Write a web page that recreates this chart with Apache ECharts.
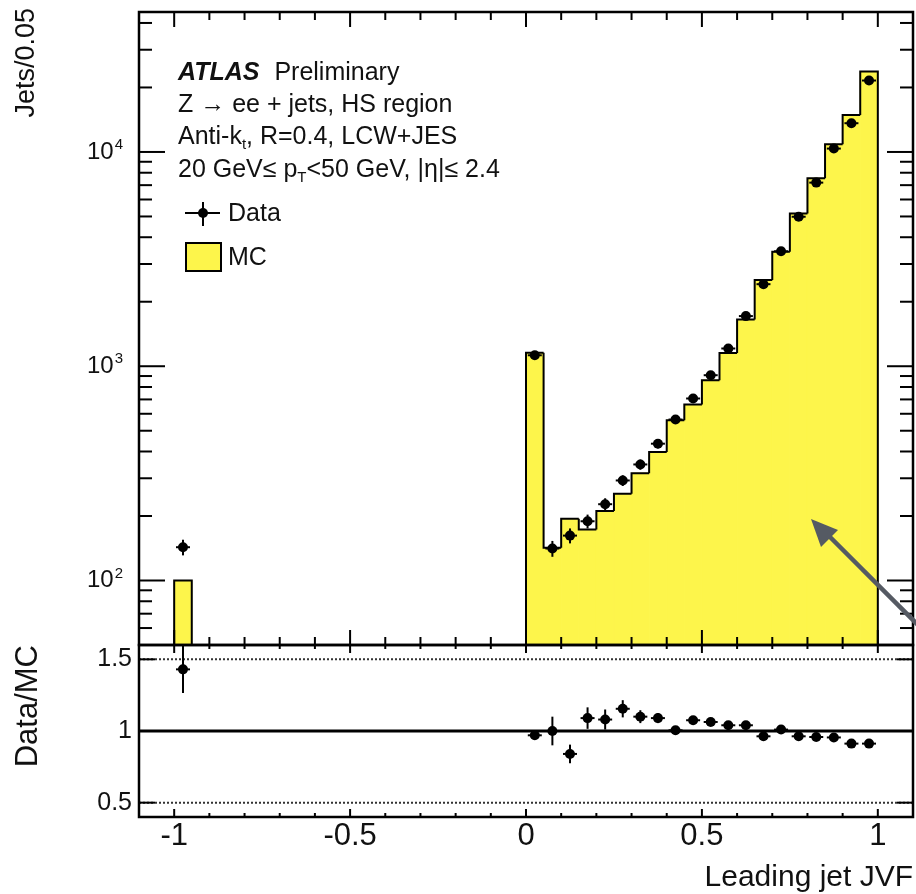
<!DOCTYPE html>
<html><head><meta charset="utf-8">
<script src="https://cdn.jsdelivr.net/npm/echarts@6/dist/echarts.min.js"></script>
<style>html,body{margin:0;padding:0;background:#fff}#c{width:916px;height:894px}</style>
</head><body><div id="c"></div>
<script>
// ---------------- data ----------------
const binWidth = 0.05;
const binLow = [-1.00, 0.00, 0.05, 0.10, 0.15, 0.20, 0.25, 0.30, 0.35, 0.40, 0.45,
                0.50, 0.55, 0.60, 0.65, 0.70, 0.75, 0.80, 0.85, 0.90, 0.95];
const mcValues = [100, 1155, 142, 194, 173, 211, 254, 317, 398, 560, 663,
                  861, 1154, 1652, 2524, 3422, 5168, 7538, 10860, 14890, 23720];
const dataValues = [143, 1125, 141, 162, 189, 227, 293, 348, 435, 564, 707,
                    908, 1210, 1714, 2415, 3440, 4985, 7193, 10370, 13620, 21550];
const dataErrors = [12, 34, 12, 13, 14, 15, 17, 19, 21, 24, 27,
                    30, 35, 41, 49, 58, 71, 85, 102, 117, 147];
const ratioValues = [1.43, 0.97, 1.00, 0.84, 1.09, 1.08, 1.155, 1.10, 1.09, 1.005, 1.075,
                     1.063, 1.04, 1.04, 0.963, 1.01, 0.963, 0.958, 0.955, 0.912, 0.912];
const ratioErrors = [0.165, 0.03, 0.10, 0.065, 0.075, 0.07, 0.06, 0.045, 0.035, 0.03, 0.025,
                     0.02, 0.02, 0.015, 0.015, 0.012, 0.01, 0.01, 0.01, 0.008, 0.007];
const ratioRefLines = [0.5, 1.0, 1.5];
const xMajorTicks = [-1, -0.5, 0, 0.5, 1];
const xMinorTicks = [-1.1, -0.9, -0.8, -0.7, -0.6, -0.4, -0.3, -0.2, -0.1,
                     0.1, 0.2, 0.3, 0.4, 0.6, 0.7, 0.8, 0.9, 1.1];
const yMajorTicks = [100, 1000, 10000];
const yMinorTicks = [50, 60, 70, 80, 90, 200, 300, 400, 500, 600, 700, 800, 900,
                     2000, 3000, 4000, 5000, 6000, 7000, 8000, 9000, 20000, 30000, 40000];
const ratioMajorTicks = [0.5, 1, 1.5];

// ---------------- layout / style ----------------
const X_MIN = -1.1, X_MAX = 1.1, Y_MIN = 50, Y_MAX = 45000, R_MIN = 0.4, R_MAX = 1.6;
const FONT = "'Liberation Sans', Arial, Helvetica, sans-serif";
const YELLOW = '#fdf54b';
const INK = '#111';

const chart = echarts.init(document.getElementById('c'), null, {renderer: 'canvas'});

function mcFill(params, api) {
  const lo = api.value(0), v = api.value(1);
  const p0 = api.coord([lo, Y_MIN]);
  const p1 = api.coord([lo + binWidth, v]);
  return {type: 'rect', shape: {x: p0[0], y: p1[1], width: p1[0] - p0[0], height: p0[1] - p1[1]},
          style: {fill: YELLOW, stroke: YELLOW, lineWidth: 1}};
}
function mcOutline(params, api) {
  const i = params.dataIndex;
  const lo = api.value(0), v = api.value(1), hi = lo + binWidth;
  const prevAdj = i > 0 && Math.abs(binLow[i - 1] + binWidth - lo) < 1e-9;
  const nextAdj = i < binLow.length - 1 && Math.abs(binLow[i + 1] - hi) < 1e-9;
  const pts = [];
  pts.push(api.coord([lo, prevAdj ? mcValues[i - 1] : Y_MIN]));
  pts.push(api.coord([lo, v]));
  pts.push(api.coord([hi, v]));
  if (!nextAdj) pts.push(api.coord([hi, Y_MIN]));
  return {type: 'polyline', shape: {points: pts}, style: {stroke: '#000', lineWidth: 2, fill: null}};
}
function pointRenderer(errArr) {
  return function (params, api) {
    const i = params.dataIndex;
    const x = api.value(0), y = api.value(1), e = errArr[i];
    const c = api.coord([x, y]);
    const t = api.coord([x, y + e]);
    const b = api.coord([x, y - e]);
    return {type: 'group', children: [
      {type: 'line', shape: {x1: c[0], y1: t[1], x2: c[0], y2: b[1]}, style: {stroke: '#000', lineWidth: 2}},
      {type: 'line', shape: {x1: c[0] - 7, y1: c[1], x2: c[0] + 7, y2: c[1]}, style: {stroke: '#000', lineWidth: 2}},
      {type: 'circle', shape: {cx: c[0], cy: c[1], r: 5}, style: {fill: '#000'}}
    ]};
  };
}
function tickSeries(idx, yLo, yHi, lens, items) {
  return {
    type: 'custom', xAxisIndex: idx, yAxisIndex: idx, z: 20, silent: true,
    encode: {x: 0, y: 1}, data: items,
    renderItem: function (params, api) {
      const kind = api.value(2);
      const st = {stroke: '#000', lineWidth: 2};
      if (kind === 9) {
        const a = api.coord([X_MIN, yHi]), b = api.coord([X_MAX, yLo]);
        return {type: 'rect', shape: {x: a[0], y: a[1], width: b[0] - a[0], height: b[1] - a[1]},
                style: {stroke: '#000', lineWidth: 2.5, fill: null}};
      }
      const len = lens[kind];
      if (kind < 2) {
        const xv = api.value(0);
        const b = api.coord([xv, yLo]), t = api.coord([xv, yHi]);
        return {type: 'group', children: [
          {type: 'line', shape: {x1: b[0], y1: b[1], x2: b[0], y2: b[1] - len}, style: st},
          {type: 'line', shape: {x1: t[0], y1: t[1], x2: t[0], y2: t[1] + len}, style: st}]};
      }
      const yv = api.value(1);
      const l = api.coord([X_MIN, yv]), r = api.coord([X_MAX, yv]);
      return {type: 'group', children: [
        {type: 'line', shape: {x1: l[0], y1: l[1], x2: l[0] + len, y2: l[1]}, style: st},
        {type: 'line', shape: {x1: r[0], y1: r[1], x2: r[0] - len, y2: r[1]}, style: st}]};
    }
  };
}

const mainTickItems = [].concat(
  xMajorTicks.map(v => [v, 100, 0]),
  xMinorTicks.map(v => [v, 100, 1]),
  yMajorTicks.map(v => [0, v, 2]),
  yMinorTicks.map(v => [0, v, 3]),
  [[0, 100, 9]]
);
const ratioTickItems = [].concat(
  xMajorTicks.map(v => [v, 1, 0]),
  xMinorTicks.map(v => [v, 1, 1]),
  ratioMajorTicks.map(v => [0, v, 2]),
  [[0, 1, 9]]
);

const mcData = binLow.map((lo, i) => [lo, mcValues[i]]);
const dataPts = binLow.map((lo, i) => [lo + binWidth / 2, dataValues[i]]);
const ratioPts = binLow.map((lo, i) => [lo + binWidth / 2, ratioValues[i]]);

const option = {
  animation: false,
  backgroundColor: '#fff',
  grid: [
    {left: 139, right: 3, top: 12, height: 633, show: false},
    {left: 139, right: 3, top: 645, height: 172, show: false}
  ],
  xAxis: [
    {gridIndex: 0, type: 'value', min: X_MIN, max: X_MAX, interval: 0.1,
     axisLabel: {show: false}, axisTick: {show: false}, axisLine: {show: false}, splitLine: {show: false}},
    {gridIndex: 1, type: 'value', min: X_MIN, max: X_MAX, interval: 0.1,
     axisTick: {show: false}, axisLine: {show: false}, splitLine: {show: false},
     axisLabel: {show: true, margin: 4, fontSize: 31, fontFamily: FONT, color: INK,
       showMinLabel: false, showMaxLabel: false,
       formatter: function (v) {
         const r = Math.round(v * 2) / 2;
         if (Math.abs(v - r) > 1e-6) return '';
         return String(r);
       }}}
  ],
  yAxis: [
    {gridIndex: 0, type: 'log', logBase: 10, min: Y_MIN, max: Y_MAX,
     axisTick: {show: false}, axisLine: {show: false}, splitLine: {show: false}, minorTick: {show: false},
     axisLabel: {show: true, margin: 16, showMinLabel: false, showMaxLabel: false,
       formatter: function (v) {
         const e = Math.log10(v), r = Math.round(e);
         if (Math.abs(e - r) > 1e-6) return '';
         return '{b|10}{s|' + r + '}';
       },
       rich: {
         b: {fontSize: 24, fontFamily: FONT, color: INK},
         s: {fontSize: 15, fontFamily: FONT, color: INK, padding: [0, 0, 14, 1]}
       }}},
    {gridIndex: 1, type: 'value', min: R_MIN, max: R_MAX, interval: 0.1,
     axisTick: {show: false}, axisLine: {show: false}, splitLine: {show: false},
     axisLabel: {show: true, margin: 7, fontSize: 25, fontFamily: FONT, color: INK,
       showMinLabel: false, showMaxLabel: false,
       formatter: function (v) {
         if (Math.abs(v - 0.5) < 1e-6) return '0.5';
         if (Math.abs(v - 1) < 1e-6) return '1';
         if (Math.abs(v - 1.5) < 1e-6) return '1.5';
         return '';
       }}}
  ],
  series: [
    {type: 'custom', name: 'MC', xAxisIndex: 0, yAxisIndex: 0, z: 2, silent: true,
     encode: {x: 0, y: 1}, data: mcData, renderItem: mcFill},
    {type: 'custom', name: 'MC outline', xAxisIndex: 0, yAxisIndex: 0, z: 3, silent: true,
     encode: {x: 0, y: 1}, data: mcData, renderItem: mcOutline},
    {type: 'custom', name: 'Data', xAxisIndex: 0, yAxisIndex: 0, z: 5, silent: true,
     encode: {x: 0, y: 1}, data: dataPts, renderItem: pointRenderer(dataErrors)},
    {type: 'custom', name: 'Ratio lines', xAxisIndex: 1, yAxisIndex: 1, z: 2, silent: true,
     encode: {x: 0, y: 1}, data: ratioRefLines.map(v => [0, v]),
     renderItem: function (params, api) {
       const v = api.value(1);
       const a = api.coord([X_MIN, v]), b = api.coord([X_MAX, v]);
       const solid = Math.abs(v - 1) < 1e-9;
       return {type: 'line', shape: {x1: a[0], y1: a[1], x2: b[0], y2: b[1]},
               style: solid ? {stroke: '#000', lineWidth: 3}
                            : {stroke: '#333', lineWidth: 2, lineDash: [2, 2]}};
     }},
    {type: 'custom', name: 'Data/MC', xAxisIndex: 1, yAxisIndex: 1, z: 5, silent: true,
     encode: {x: 0, y: 1}, data: ratioPts, renderItem: pointRenderer(ratioErrors)},
    tickSeries(0, Y_MIN, Y_MAX, [15, 8, 26, 13], mainTickItems),
    tickSeries(1, R_MIN, R_MAX, [8, 4, 16, 8], ratioTickItems)
  ],
  graphic: [
    {type: 'text', x: 178, y: 73, silent: true, style: {
      text: '{b|ATLAS} Preliminary', fontSize: 25, fontFamily: FONT, fill: INK, verticalAlign: 'middle',
      rich: {b: {fontSize: 25, fontFamily: FONT, fontWeight: 'bold', fontStyle: 'italic', fill: INK, padding: [0, 8, 0, 0]}}}},
    {type: 'text', x: 178, y: 105, silent: true, style: {
      text: 'Z \u2192 ee + jets, HS region', fontSize: 25, fontFamily: FONT, fill: INK, verticalAlign: 'middle'}},
    {type: 'text', x: 178, y: 137, silent: true, style: {
      text: 'Anti-k{s|t}, R=0.4, LCW+JES', fontSize: 25, fontFamily: FONT, fill: INK, verticalAlign: 'middle',
      rich: {s: {fontSize: 15, fontFamily: FONT, fill: INK, padding: [16, 0, 0, 0]}}}},
    {type: 'text', x: 178, y: 170, silent: true, style: {
      text: '20 GeV\u2264 p{s|T}<50 GeV, |\u03b7|\u2264 2.4', fontSize: 25, fontFamily: FONT, fill: INK, verticalAlign: 'middle',
      rich: {s: {fontSize: 15, fontFamily: FONT, fill: INK, padding: [16, 0, 0, 0]}}}},
    // legend: Data
    {type: 'line', silent: true, shape: {x1: 185, y1: 213, x2: 220, y2: 213}, style: {stroke: '#000', lineWidth: 2}},
    {type: 'line', silent: true, shape: {x1: 203, y1: 202, x2: 203, y2: 226}, style: {stroke: '#000', lineWidth: 2}},
    {type: 'circle', silent: true, shape: {cx: 203, cy: 213, r: 5}, style: {fill: '#000'}},
    {type: 'text', x: 228, y: 214, silent: true, style: {text: 'Data', fontSize: 25, fontFamily: FONT, fill: INK, verticalAlign: 'middle'}},
    // legend: MC
    {type: 'rect', silent: true, shape: {x: 186, y: 243, width: 35, height: 28}, style: {fill: YELLOW, stroke: '#000', lineWidth: 2}},
    {type: 'text', x: 228, y: 258, silent: true, style: {text: 'MC', fontSize: 25, fontFamily: FONT, fill: INK, verticalAlign: 'middle'}},
    // axis titles
    {type: 'text', x: 27, y: 8, rotation: Math.PI / 2, silent: true, style: {
      text: 'Jets/0.05', fontSize: 27, fontFamily: FONT, fill: INK, align: 'right', verticalAlign: 'middle'}},
    {type: 'text', x: 28, y: 645, rotation: Math.PI / 2, silent: true, style: {
      text: 'Data/MC', fontSize: 31, fontFamily: FONT, fill: INK, align: 'right', verticalAlign: 'middle'}},
    {type: 'text', x: 913, y: 878, silent: true, style: {
      text: 'Leading jet JVF', fontSize: 30, fontFamily: FONT, fill: INK, align: 'right', verticalAlign: 'middle'}},
    // annotation arrow
    {type: 'line', silent: true, z: 100, shape: {x1: 918, y1: 625, x2: 826, y2: 533}, style: {stroke: '#555a63', lineWidth: 4.5}},
    {type: 'polygon', silent: true, z: 100, shape: {points: [[811, 519], [838, 530], [821, 547]]}, style: {fill: '#555a63'}}
  ]
};
chart.setOption(option);
</script>
</body></html>
